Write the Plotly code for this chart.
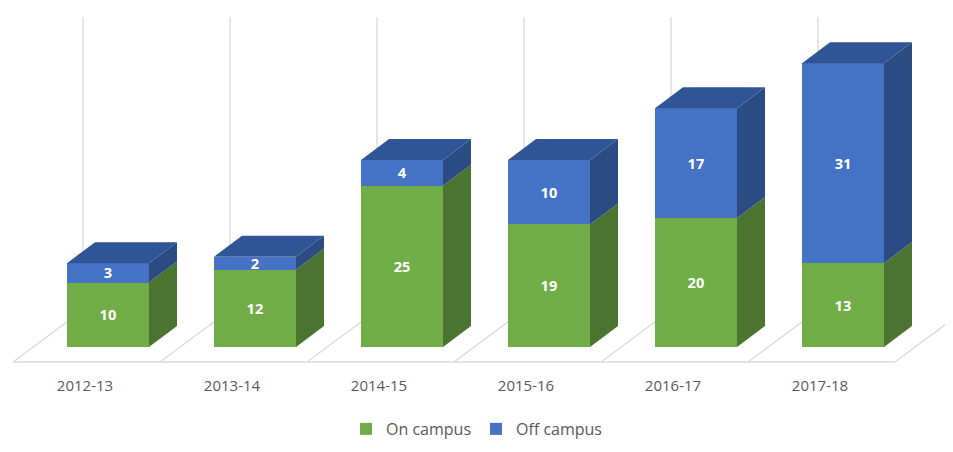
import plotly.graph_objects as go

categories = ["2012-13", "2013-14", "2014-15", "2015-16", "2016-17", "2017-18"]
on_campus = [10, 12, 25, 19, 20, 13]
off_campus = [3, 2, 4, 10, 17, 31]

# styling / geometry (pixel-calibrated constants; page body has an 8px margin)
OFF = 8
PX_X = 147.0          # pixels per category
PX_Y = 6.45           # pixels per unit
BASE_PX = 347.0 - OFF # pixel row of value 0 (bar front)
C0_PX = 108.0 - OFF   # pixel col of first bar centre
W = 953 - 2 * OFF
H = 452 - 2 * OFF
PLOT_H = 370 - OFF

bar_w = 82 / PX_X
dx = 28 / PX_X
dy = 21 / PX_Y

GREEN, GREEN_SIDE = "#70AD47", "#4B7431"
BLUE, BLUE_SIDE, BLUE_TOP = "#4472C4", "#2C4B82", "#2F5597"
GRID = "#D9D9D9"

xs = list(range(len(categories)))

lbl_font = dict(color="white", size=17, family="Open Sans", weight="bold")
fig = go.Figure()
fig.add_trace(go.Bar(
    x=xs, y=on_campus, name="On campus", width=bar_w,
    marker=dict(color=GREEN, line=dict(width=0)),
    text=on_campus, textposition="inside", insidetextanchor="middle", textangle=0,
    textfont=lbl_font,
))
fig.add_trace(go.Bar(
    x=xs, y=off_campus, name="Off campus", width=bar_w,
    marker=dict(color=BLUE, line=dict(width=0)),
    text=off_campus, textposition="inside", insidetextanchor="middle", textangle=0,
    textfont=lbl_font,
))

shapes = []
# floor & back wall grid
v_front = (BASE_PX - (362 - OFF)) / PX_Y
v_back = (BASE_PX - (310 - OFF)) / PX_Y
v_top = (BASE_PX - (17 - OFF)) / PX_Y
x_front0 = ((13 - OFF) - C0_PX) / PX_X
floor_dx = 70 / PX_X
n = len(categories)
shapes.append(dict(type="line", xref="x", yref="y", x0=x_front0, y0=v_front,
                   x1=x_front0 + n, y1=v_front, line=dict(color=GRID, width=1.3), layer="below"))
for k in range(n + 1):
    xf = x_front0 + k
    shapes.append(dict(type="line", xref="x", yref="y", x0=xf, y0=v_front,
                       x1=xf + floor_dx, y1=v_back, line=dict(color=GRID, width=1.3), layer="below"))
    shapes.append(dict(type="line", xref="x", yref="y", x0=xf + floor_dx, y0=v_back,
                       x1=xf + floor_dx, y1=v_top, line=dict(color=GRID, width=1.3), layer="below"))


def poly(pts, color):
    path = "M " + " L ".join(f"{px},{py}" for px, py in pts) + " Z"
    return dict(type="path", xref="x", yref="y", path=path, fillcolor=color,
                line=dict(width=0), layer="above")


for i, (a, b) in enumerate(zip(on_campus, off_campus)):
    xl = i - bar_w / 2
    xr = i + bar_w / 2
    tot = a + b
    shapes.append(poly([(xr, 0), (xr + dx, dy), (xr + dx, a + dy), (xr, a)], GREEN_SIDE))
    shapes.append(poly([(xr, a), (xr + dx, a + dy), (xr + dx, tot + dy), (xr, tot)], BLUE_SIDE))
    shapes.append(poly([(xl, tot), (xl + dx, tot + dy), (xr + dx, tot + dy), (xr, tot)], BLUE_TOP))

x_min = (0 - C0_PX) / PX_X
x_max = (W - C0_PX) / PX_X
y_min = (BASE_PX - PLOT_H) / PX_Y
y_max = BASE_PX / PX_Y

tick_shift = ((85 - OFF) - C0_PX) / PX_X
legend_y = (PLOT_H - (429 - OFF)) / PLOT_H

fig.update_layout(
    width=W, height=H,
    margin=dict(l=0, r=0, t=0, b=H - PLOT_H, autoexpand=False),
    barmode="stack",
    plot_bgcolor="white", paper_bgcolor="white",
    shapes=shapes,
    uniformtext=dict(mode="show", minsize=14),
    font=dict(family="Open Sans", color="#595959"),
    xaxis=dict(range=[x_min, x_max], showgrid=False, zeroline=False, showline=False,
               tickvals=[x + tick_shift for x in xs], ticktext=categories, ticks="",
               tickfont=dict(size=15, color="#595959"), ticklabelstandoff=5, fixedrange=True),
    yaxis=dict(range=[y_min, y_max], showgrid=False, zeroline=False, showline=False,
               showticklabels=False, fixedrange=True),
    legend=dict(orientation="h", x=0.5, xanchor="center", y=legend_y, yanchor="middle",
                font=dict(size=16, color="#595959"), traceorder="normal",
                itemwidth=30, tracegroupgap=0),
    showlegend=True,
)

fig.write_html("out.html")
